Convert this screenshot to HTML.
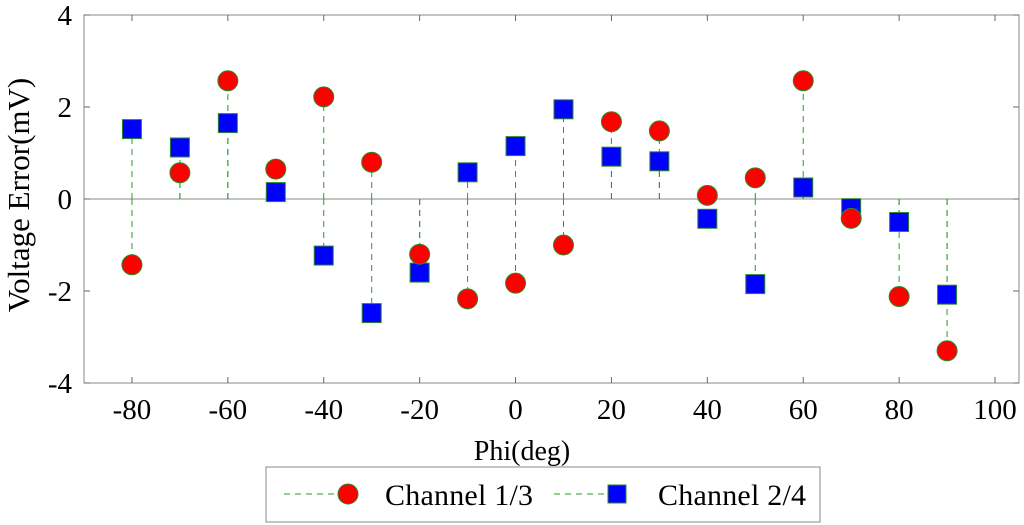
<!DOCTYPE html>
<html><head><meta charset="utf-8"><style>
body{margin:0;background:#fff;}
svg{display:block;font-family:"Liberation Serif",serif;}
</style></head><body>
<svg id="chart" width="1024" height="525" viewBox="0 0 1024 525" xmlns="http://www.w3.org/2000/svg"></svg>
<script>
const phi = [-80,-70,-60,-50,-40,-30,-20,-10,0,10,20,30,40,50,60,70,80,90];
const ch13 = [-1.43,0.57,2.57,0.65,2.22,0.8,-1.2,-2.17,-1.83,-1.0,1.68,1.48,0.08,0.46,2.57,-0.42,-2.12,-3.3];
const ch24 = [1.52,1.12,1.65,0.15,-1.23,-2.48,-1.6,0.58,1.15,1.95,0.92,0.82,-0.43,-1.85,0.25,-0.2,-0.5,-2.08];
const xTicks = [-80,-60,-40,-20,0,20,40,60,80,100];
const yTicks = [-4,-2,0,2,4];

const L=84,R=1019,T=15,B=383;
const xMin=-90,xMax=105,yMin=-4,yMax=4;
const sx=v=>L+(v-xMin)/(xMax-xMin)*(R-L);
const sy=v=>B-(v-yMin)/(yMax-yMin)*(B-T);
const svg=document.getElementById('chart');
const NS='http://www.w3.org/2000/svg';
function mk(tag,attrs,parent){const e=document.createElementNS(NS,tag);for(const k in attrs)e.setAttribute(k,attrs[k]);(parent||svg).appendChild(e);return e;}

let el=mk('rect',{x:L,y:T,width:R-L,height:B-T,fill:'#fff',stroke:'#888','stroke-width':1});


el=mk('line',{x1:L,x2:R,y1:sy(0),y2:sy(0),stroke:'#888','stroke-width':1});



xTicks.forEach(t=>{
  const x=sx(t);
  mk('line',{x1:x,x2:x,y1:B,y2:B-6,stroke:'#666'});
  mk('line',{x1:x,x2:x,y1:T,y2:T+6,stroke:'#666'});
  const tx=mk('text',{x:x,y:B+36,'text-anchor':'middle','font-size':29});
  tx.textContent=t;
  
  
});
yTicks.forEach(t=>{
  const y=sy(t);
  mk('line',{x1:L,x2:L+6,y1:y,y2:y,stroke:'#666'});
  mk('line',{x1:R,x2:R-6,y1:y,y2:y,stroke:'#666'});
  const tx=mk('text',{x:L-12,y:y+10,'text-anchor':'end','font-size':29});
  tx.textContent=t;
  
  
});

el=mk('text',{x:522,y:460,'text-anchor':'middle','font-size':28});
el.textContent='Phi(deg)';


el=mk('text',{x:0,y:0,'text-anchor':'middle','font-size':31,transform:'translate(29,195) rotate(-90)'});
el.textContent='Voltage Error(mV)';



[ch13,ch24].forEach(s=>{
  phi.forEach((p,i)=>{
    const st=mk('line',{x1:sx(p),x2:sx(p),y1:sy(0),y2:sy(s[i]),stroke:'#2a9a2a','stroke-width':1,'stroke-dasharray':'6,5'});
    
    
  });
});
phi.forEach((p,i)=>{
  const r=mk('rect',{x:sx(p)-9.5,y:sy(ch24[i])-9.5,width:19,height:19,fill:'#00f',stroke:'#2a8a2a','stroke-width':1});
  
  
});
phi.forEach((p,i)=>{
  const c=mk('circle',{cx:sx(p),cy:sy(ch13[i]),r:10,fill:'#f00',stroke:'#2a8a2a','stroke-width':1});
  
  
});

const lg=mk('g',{});


mk('rect',{x:266,y:467,width:554,height:55,fill:'#fff',stroke:'#888'},lg);
const e1=mk('g',{},lg);


mk('line',{x1:284,x2:340,y1:494,y2:494,stroke:'#2a9a2a','stroke-dasharray':'6,5'},e1);
mk('circle',{cx:348,cy:494,r:10,fill:'#f00',stroke:'#2a8a2a'},e1);
let t1=mk('text',{x:385,y:505,'font-size':30,textLength:148},e1);t1.textContent='Channel 1/3';
const e2=mk('g',{},lg);


mk('line',{x1:554,x2:608,y1:494,y2:494,stroke:'#2a9a2a','stroke-dasharray':'6,5'},e2);
mk('rect',{x:608,y:485,width:18,height:18,fill:'#00f',stroke:'#2a8a2a'},e2);
let t2=mk('text',{x:658,y:505,'font-size':30,textLength:148},e2);t2.textContent='Channel 2/4';
</script>
</body></html>
